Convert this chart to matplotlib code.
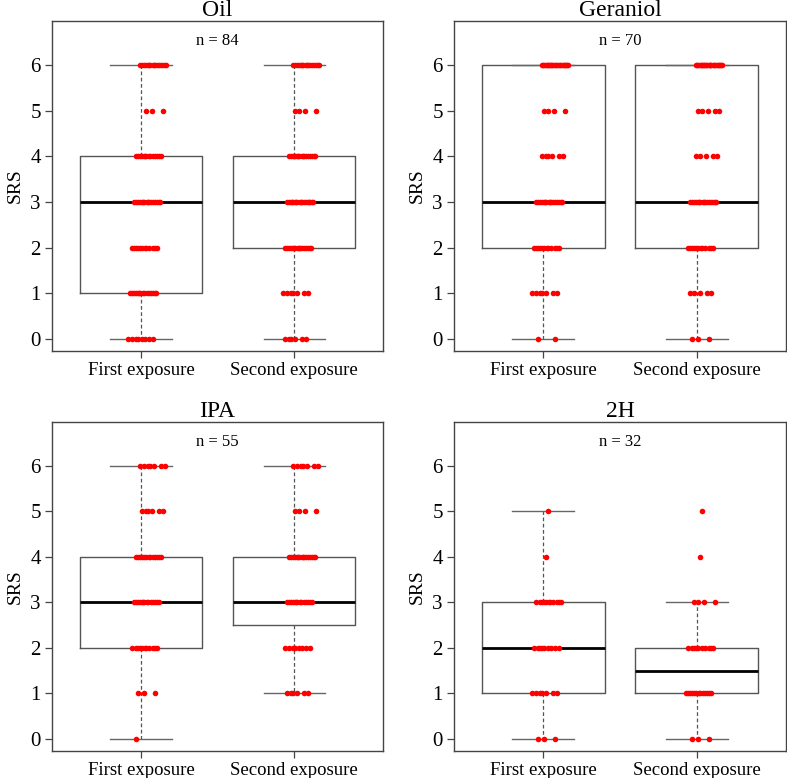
import numpy as np
import matplotlib
matplotlib.use("Agg")
import matplotlib.pyplot as plt

plt.rcParams['font.family'] = ['Liberation Serif', 'DejaVu Serif']

# SRS score levels and how many animals scored each level
levels = [0, 1, 2, 3, 4, 5, 6]
groups = ["First exposure", "Second exposure"]

titles = ["Oil", "Geraniol", "IPA", "2H"]
n_labels = ["n = 84", "n = 70", "n = 55", "n = 32"]

oil_first = [8, 15, 12, 16, 14, 3, 16]
oil_second = [6, 7, 16, 18, 17, 4, 16]
ger_first = [2, 7, 12, 16, 6, 4, 23]
ger_second = [3, 5, 12, 16, 5, 5, 24]
ipa_first = [1, 3, 11, 14, 13, 6, 7]
ipa_second = [0, 6, 8, 14, 16, 4, 7]
h2_first = [3, 7, 9, 11, 1, 1, 0]
h2_second = [3, 13, 10, 4, 1, 1, 0]

counts = [(oil_first, oil_second), (ger_first, ger_second),
          (ipa_first, ipa_second), (h2_first, h2_second)]


def expand(cnt):
    return np.repeat(levels, cnt).astype(float)


def fivenum(x):
    # Tukey hinges like R's fivenum
    x = np.sort(x)
    n = len(x)
    n4 = np.floor((n + 3) / 2) / 2
    d = np.array([1, n4, (n + 1) / 2, n + 1 - n4, n])
    return 0.5 * (x[np.floor(d).astype(int) - 1] + x[np.ceil(d).astype(int) - 1])


def box_stats(x):
    mn, q1, med, q3, mx = fivenum(x)
    iqr = q3 - q1
    lo = x[x >= q1 - 1.5 * iqr].min()
    hi = x[x <= q3 + 1.5 * iqr].max()
    return dict(med=med, q1=q1, q3=q3, whislo=lo, whishi=hi, fliers=[])


def jitter(k, amount=0.09):
    # deterministic spread of k points in [-amount, amount]
    i = np.arange(k)
    return ((i * 0.6180339887 + 0.31) % 1.0 - 0.5) * 2 * amount


fig = plt.figure(figsize=(7.87, 7.78), dpi=100)
rects = [[0.0661, 0.5488, 0.4206, 0.4242], [0.5769, 0.5488, 0.4219, 0.4242],
         [0.0661, 0.0347, 0.4206, 0.4229], [0.5769, 0.0347, 0.4219, 0.4229]]
frame_col = "#444444"

for p in range(4):
    ax = fig.add_axes(rects[p])
    data = [expand(c) for c in counts[p]]
    stats = [box_stats(d) for d in data]
    ax.bxp(stats, positions=[1, 2], widths=0.8, showfliers=False,
           boxprops=dict(color="#555555", linewidth=1.0),
           medianprops=dict(color="black", linewidth=2.0),
           whiskerprops=dict(color="#555555", linewidth=0.9, linestyle=(0, (3, 2))),
           capprops=dict(color="#666666", linewidth=1.0), capwidths=0.4)
    for g in range(2):
        for lv, k in zip(levels, counts[p][g]):
            if k == 0:
                continue
            xs = g + 1 + jitter(k) + lv * 0.013
            ax.scatter(xs, np.full(k, lv), s=16, color="#ff0000", zorder=5,
                       linewidths=0)
    ax.set_xlim(0.42, 2.58)
    ax.set_ylim(-0.268, 6.968)
    ax.set_yticks(levels)
    ax.set_xticks([1, 2])
    ax.set_xticklabels(groups, fontsize=13.5)
    ax.tick_params(axis='y', labelsize=15, length=5, color=frame_col, width=0.9, pad=3)
    ax.tick_params(axis='x', length=5, color=frame_col, width=0.9, pad=3)
    for s in ax.spines.values():
        s.set_color(frame_col)
        s.set_linewidth(1.0)
    ax.set_ylabel("SRS", fontsize=14, labelpad=5)
    ax.set_title(titles[p], fontsize=17, pad=2)
    ax.text(1.5, 6.53, n_labels[p], ha="center", va="center", fontsize=12)

fig.savefig("out.png", dpi=100)
